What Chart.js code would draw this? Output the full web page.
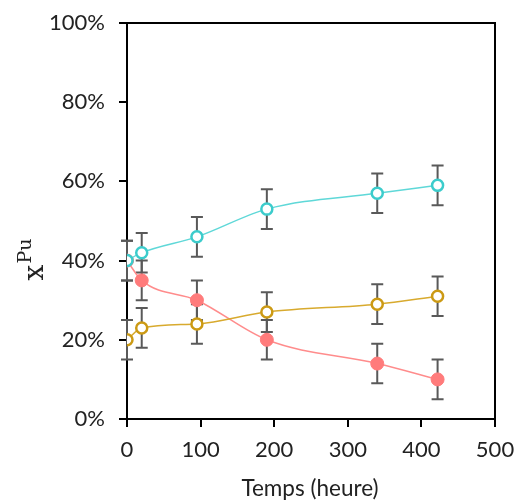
<!DOCTYPE html>
<html>
<head>
<meta charset="utf-8">
<script src="https://cdn.jsdelivr.net/npm/chart.js@4"></script>
<style>
html,body{margin:0;padding:0;background:#fff;}
#wrap{width:518px;height:501px;}
</style>
</head>
<body>
<div id="wrap"><canvas id="c" width="518" height="501"></canvas></div>
<script>
// ---- data ----
const hours = [0, 20, 95, 190, 340, 422];
const cyanValues = [40, 42, 46, 53, 57, 59];
const redValues = [40, 35, 30, 20, 14, 10];
const goldValues = [20, 23, 24, 27, 29, 31];
const errorValues = [5, 5, 5, 5, 5, 5];
const xTickValues = [0, 100, 200, 300, 400, 500];
const yTickValues = [0, 20, 40, 60, 80, 100];
const xTitle = 'Temps (heure)';

const toPts = vals => hours.map((h, i) => ({x: h, y: vals[i]}));

const errorBars = {
  id: 'errorBars',
  beforeDatasetsDraw(chart) {
    const {ctx, scales: {x, y}} = chart;
    ctx.save();
    ctx.strokeStyle = '#595959';
    ctx.lineWidth = 2;
    chart.data.datasets.forEach(ds => {
      ds.data.forEach((p, i) => {
        const e = errorValues[i];
        const px = x.getPixelForValue(p.x);
        const top = y.getPixelForValue(p.y + e);
        const bot = y.getPixelForValue(p.y - e);
        ctx.beginPath();
        ctx.moveTo(px, top); ctx.lineTo(px, bot);
        ctx.moveTo(px - 6, top); ctx.lineTo(px + 6, top);
        ctx.moveTo(px - 6, bot); ctx.lineTo(px + 6, bot);
        ctx.stroke();
      });
    });
    ctx.restore();
  }
};

const frameAndTitles = {
  id: 'frameAndTitles',
  afterDraw(chart) {
    const {ctx, chartArea: a} = chart;
    ctx.save();
    ctx.strokeStyle = '#000';
    ctx.lineWidth = 2;
    ctx.beginPath();
    ctx.moveTo(a.left, a.top); ctx.lineTo(a.right, a.top); ctx.lineTo(a.right, a.bottom);
    ctx.stroke();
    // x title
    ctx.fillStyle = '#222';
    ctx.font = '22.5px Lato';
    ctx.textAlign = 'center';
    ctx.textBaseline = 'middle';
    ctx.fillText(xTitle, (a.left + a.right) / 2 - 1, 489);
    // y title x^Pu
    ctx.translate(43, 260);
    ctx.rotate(-Math.PI / 2);
    ctx.textAlign = 'left';
    ctx.textBaseline = 'alphabetic';
    ctx.font = '28px "DejaVu Serif"';
    const w1 = ctx.measureText('x').width;
    ctx.font = '19px "DejaVu Serif"';
    const w2 = ctx.measureText('Pu').width;
    const w = w1 + w2;
    ctx.font = '28px "DejaVu Serif"';
    ctx.fillText('x', -w / 2, 0);
    ctx.font = '19px "DejaVu Serif"';
    ctx.fillText('Pu', -w / 2 + w1 + 1, -12);
    ctx.restore();
  }
};

new Chart(document.getElementById('c'), {
  type: 'line',
  data: {
    datasets: [
      {label: 'cyan', data: toPts(cyanValues), borderColor: '#5fd8d8', borderWidth: 1.5,
       pointBackgroundColor: '#fff', pointBorderColor: '#3ccccc', pointBorderWidth: 2.5, pointRadius: 5.5,
       cubicInterpolationMode: 'monotone'},
      {label: 'gold', data: toPts(goldValues), borderColor: '#d8aa2e', borderWidth: 1.5,
       pointBackgroundColor: '#fff', pointBorderColor: '#cc9a14', pointBorderWidth: 2.5, pointRadius: 5.5,
       cubicInterpolationMode: 'monotone'},
      {label: 'red', data: toPts(redValues), borderColor: '#ff8c8c', borderWidth: 1.5,
       pointBackgroundColor: '#ff7b7b', pointBorderColor: '#ff7b7b', pointBorderWidth: 1, pointRadius: 6.5,
       cubicInterpolationMode: 'monotone'}
    ]
  },
  options: {
    responsive: false,
    animation: false,
    events: [],
    layout: {padding: {left: 0, right: 23, top: 23, bottom: 0}},
    plugins: {legend: {display: false}, tooltip: {enabled: false}},
    scales: {
      x: {
        type: 'linear', min: 0, max: 500,
        afterBuildTicks: s => { s.ticks = xTickValues.map(v => ({value: v})); },
        afterFit: s => { s.height = 82; s.paddingLeft = 0; s.paddingRight = 0; },
        ticks: {color: '#222', font: {family: 'Lato', size: 22}, padding: 10, maxRotation: 0},
        grid: {drawOnChartArea: false, drawTicks: true, tickLength: 8, color: '#000', lineWidth: 2},
        border: {color: '#000', width: 2}
      },
      y: {
        min: 0, max: 100,
        afterBuildTicks: s => { s.ticks = yTickValues.map(v => ({value: v})); },
        afterFit: s => { s.width = 127; s.paddingTop = 0; s.paddingBottom = 0; },
        ticks: {color: '#222', font: {family: 'Lato', size: 22}, padding: 14, callback: v => v + '%'},
        grid: {drawOnChartArea: false, drawTicks: true, tickLength: 8, color: '#000', lineWidth: 2},
        border: {color: '#000', width: 2}
      }
    }
  },
  plugins: [errorBars, frameAndTitles]
});
</script>
</body>
</html>
